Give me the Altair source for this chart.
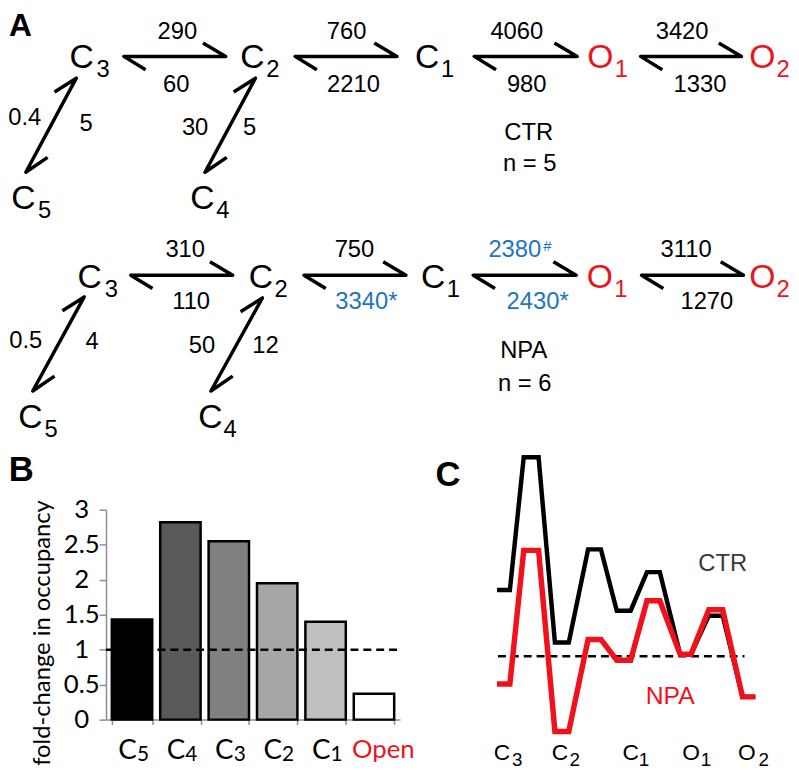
import altair as alt
import pandas as pd

# ======================= DATA =======================
# Panel A - kinetic schemes, rate constants (s^-1)
scheme_groups = ["CTR", "NPA"]
scheme_n = ["n = 5", "n = 6"]
chain_states = ["C3", "C2", "C1", "O1", "O2"]
branch_states = ["C5", "C4"]            # C5 hangs off C3, C4 hangs off C2
ctr_rate_upper = ["290", "760", "4060", "3420"]
ctr_rate_lower = ["60", "2210", "980", "1330"]
ctr_branch_left = ["0.4", "30"]
ctr_branch_right = ["5", "5"]
npa_rate_upper = ["310", "750", "2380", "3110"]
npa_rate_lower = ["110", "3340*", "2430*", "1270"]
npa_branch_left = ["0.5", "50"]
npa_branch_right = ["4", "12"]
npa_upper_note = ["", "", "#", ""]
npa_upper_changed = [False, False, True, False]
npa_lower_changed = [False, True, True, False]

# Panel B - fold-change in occupancy (NPA / CTR)
occ_states = ["C5", "C4", "C3", "C2", "C1", "Open"]
occ_fold_change = [1.43, 2.82, 2.55, 1.95, 1.40, 0.37]

# Panel C - free-energy profile (arbitrary units)
energy_states = ["C3", "C2", "C1", "O1", "O2"]
ctr_well_energy = [3.35, 0.70, 2.30, 0.10, -2.05]
ctr_barrier_energy = [10.05, 5.40, 4.25, 2.05]
npa_well_energy = [-1.40, -3.80, -0.20, 0.10, -2.05]
npa_barrier_energy = [5.35, 0.85, 2.80, 2.35]
reference_energy = 0.0

# ======================= STYLE / LAYOUT =======================
W, H, M = 783, 754, 8
FONT_A = "Liberation Sans, Arial, Helvetica, sans-serif"
FONT_B = "Lato, Noto Sans, sans-serif"
RED = "#e8161d"
LINE_RED = "#f2101a"
BLUE = "#1c76bc"
GRAY_AX = "#8f8f8f"
BAR_FILLS = ["#000000", "#595959", "#808080", "#a6a6a6", "#bfbfbf", "#ffffff"]

STATE_X = [[82.5, 255, 431.5, 606.5, 770], [90.5, 263.5, 437.5, 606, 770]]
SUB_X = [[104, 275.5, 452, 627.5, 791], [112.5, 284, 458, 627, 791]]
STATE_BASE = [65, 287]
SUB_BASE = [74, 296]
BRANCH_X = [[23.5, 204.5], [30.5, 212.5]]
BRANCH_SUB_X = [[45, 225], [51.5, 232.5]]
BRANCH_BASE = [207, 428]
BRANCH_SUB_BASE = [216, 437]
UPPER_X = [[179, 350, 522, 689], [187, 358, 520, 693]]
UPPER_BASE = [35, 256]
LOWER_X = [[178, 357, 532, 707], [193, 370, 543, 714]]
LOWER_BASE = [89, 308]
BL_X = [[25, 197], [26, 204]]
BL_BASE = [[122, 132], [348, 353]]
BR_X = [[87, 252], [93, 268]]
BR_BASE = [[128, 132], [349, 353]]
GROUP_X = [[534, 535], [529, 530]]
GROUP_BASE = [[137, 169], [358, 391]]
HARROW = [[(125, 228), (298, 401), (479, 583), (647, 749)],
          [(132, 235), (307, 410), (478, 582), (648, 751)]]
HARROW_Y = [53, 274]
DARROW = [[((77, 75), (26, 170)), ((258, 75), (207, 170))],
          [((85, 296), (33, 391)), ((265, 297), (213, 391))]]

WELL_X = [508.5, 567.5, 630, 692.5, 756.5]
WELL_HW = [6.5, 7, 7, 5.5, 6.5]
BAR_X = [536.5, 600.5, 660, 723]
BAR_HW = [7.5, 6.5, 6.5, 7]
C_LETTER_X = [506.5, 565, 636.5, 697.5, 754]
C_SUB_X = [522, 580, 650, 712.5, 771]


def PX(f, axis=None):
    return alt.X(f"{f}:Q", scale=alt.Scale(domain=[M, M + W], range=[0, W], nice=False, zero=False), axis=axis)


def PY(f):
    return alt.Y(f"{f}:Q", scale=alt.Scale(domain=[M, M + H], range=[0, H], nice=False, zero=False), axis=None)


# ---------------- panel A text table ----------------
rows = []


def add(text, x, y, size, color="black"):
    rows.append(dict(text=text, x=x, y=y, size=size, color=color))


uppers = [ctr_rate_upper, npa_rate_upper]
lowers = [ctr_rate_lower, npa_rate_lower]
bls = [ctr_branch_left, npa_branch_left]
brs = [ctr_branch_right, npa_branch_right]
up_col = [[False] * 4, npa_upper_changed]
lo_col = [[False] * 4, npa_lower_changed]
notes = [[""] * 4, npa_upper_note]

for g in range(2):
    for i, s in enumerate(chain_states):
        col = RED if s.startswith("O") else "black"
        add(s[0], STATE_X[g][i], STATE_BASE[g], 34, col)
        add(s[1:], SUB_X[g][i], SUB_BASE[g], 24, col)
    for j, s in enumerate(branch_states):
        add(s[0], BRANCH_X[g][j], BRANCH_BASE[g], 34)
        add(s[1:], BRANCH_SUB_X[g][j], BRANCH_SUB_BASE[g], 24)
    for i in range(4):
        add(uppers[g][i], UPPER_X[g][i], UPPER_BASE[g], 24, BLUE if up_col[g][i] else "black")
        add(lowers[g][i], LOWER_X[g][i], LOWER_BASE[g], 24, BLUE if lo_col[g][i] else "black")
        if notes[g][i]:
            add(notes[g][i], UPPER_X[g][i] + 33, UPPER_BASE[g] - 6, 15, BLUE)
    for j in range(2):
        add(bls[g][j], BL_X[g][j], BL_BASE[g][j], 24)
        add(brs[g][j], BR_X[g][j], BR_BASE[g][j], 24)
    add(scheme_groups[g], GROUP_X[g][0], GROUP_BASE[g][0], 24)
    add(scheme_n[g], GROUP_X[g][1], GROUP_BASE[g][1], 24)

# panel C curve labels
add(scheme_groups[0], 730, 573, 24, "#3a3a3a")
add(scheme_groups[1], 677, 707, 25, LINE_RED)
text_df = pd.DataFrame(rows)

bold_df = pd.DataFrame(dict(text=["A", "B", "C"], x=[20.5, 21.5, 452.5], y=[32, 482, 487],
                            size=[32, 35, 35], color=["black"] * 3))

# ---------------- arrows ----------------
arr = []
aid = 0
for g in range(2):
    y = HARROW_Y[g]
    for (x1, x2) in HARROW[g]:
        pts = [(x1 + 22, y + 13.5), (x1, y), (x2, y), (x2 - 23, y - 13.5)]
        for k, (px, py) in enumerate(pts):
            arr.append(dict(id=aid, order=k, x=px, y=py))
        aid += 1
    for (tx, ty), (bx, by) in DARROW[g]:
        pts = [(tx - 22, ty + 14), (tx, ty), (bx, by), (bx + 22, by - 15)]
        for k, (px, py) in enumerate(pts):
            arr.append(dict(id=aid, order=k, x=px, y=py))
        aid += 1
arrow_df = pd.DataFrame(arr)


# ---------------- energy profile vertices ----------------
def profile(wells, barriers):
    out = []
    k = 0
    for i in range(5):
        for sgn in (-1, 1):
            out.append(dict(order=k, x=WELL_X[i] + sgn * WELL_HW[i], E=wells[i]))
            k += 1
        if i < 4:
            for sgn in (-1, 1):
                out.append(dict(order=k, x=BAR_X[i] + sgn * BAR_HW[i], E=barriers[i]))
                k += 1
    return pd.DataFrame(out)


ctr_df = profile(ctr_well_energy, ctr_barrier_energy)
npa_df = profile(npa_well_energy, npa_barrier_energy)
EY = alt.Scale(domain=[-5, 11], range=[751, 431], nice=False, zero=False)

# ======================= LAYERS =======================
arrows = alt.Chart(arrow_df).mark_line(color="black", strokeWidth=3.5, strokeJoin="round").encode(
    x=PX("x"), y=PY("y"), order=alt.Order("order:Q"), detail="id:N")

texts = alt.Chart(text_df).mark_text(font=FONT_A, baseline="alphabetic", align="center").encode(
    x=PX("x"), y=PY("y"), text="text:N",
    size=alt.Size("size:Q", scale=None, legend=None),
    color=alt.Color("color:N", scale=None, legend=None))

bold = alt.Chart(bold_df).mark_text(font=FONT_A, fontWeight="bold", baseline="alphabetic", align="center").encode(
    x=PX("x"), y=PY("y"), text="text:N",
    size=alt.Size("size:Q", scale=None, legend=None),
    color=alt.Color("color:N", scale=None, legend=None))

bar_df = pd.DataFrame(dict(state=occ_states, fold=occ_fold_change))
BY = alt.Scale(domain=[0, 3], range=[715, 503], nice=False, zero=True)


def BX():
    return alt.Scale(type="band", domain=occ_states, range=[99, 396], paddingInner=0.165, paddingOuter=0.12)


state_list = "[" + ",".join(f"'{s}'" for s in occ_states if s != "Open") + "]"
is_open = "datum.value == 'Open'"
is_closed = f"indexof({state_list}, datum.value) >= 0"
bars = alt.Chart(bar_df).mark_bar(stroke="black", strokeWidth=2.5).encode(
    x=alt.X("state:N", sort=occ_states, scale=BX(),
            axis=alt.Axis(orient="bottom", offset=-39, title=None, domainColor=GRAY_AX, domainWidth=1.5,
                          tickColor=GRAY_AX, tickWidth=1.5, tickSize=5, tickBand="extent",
                          labelExpr=f"{is_open} ? 'Open' : ({is_closed} ? substring(datum.value, 0, 1) : '')",
                          labelFont=FONT_B, labelPadding=12, labelAngle=0, labelOverlap=False,
                          labelFontSize=alt.ExprRef(expr=f"{is_open} ? 26 : 28"),
                          labelOffset=alt.ExprRef(expr=f"{is_open} ? 9 : -5"),
                          labelColor=alt.ExprRef(expr=f"{is_open} ? '{RED}' : 'black'"))),
    y=alt.Y("fold:Q", scale=BY,
            axis=alt.Axis(orient="left", offset=-99, values=[0, 0.5, 1, 1.5, 2, 2.5, 3], format="~g",
                          grid=False, domainColor=GRAY_AX, domainWidth=1.5, tickColor=GRAY_AX, tickWidth=1.5,
                          tickSize=7, labelFont=FONT_B, labelFontSize=26, labelAlign="center",
                          labelBaseline="middle", labelPadding=18, labelColor="black",
                          title="fold-change in occupancy", titleFont=FONT_B, titleFontSize=24,
                          titleFontWeight="normal", titleColor="black", titleX=-64, titleY=627,
                          titleAlign="center", titleBaseline="middle", titleAngle=-90)),
    color=alt.Color("state:N", scale=alt.Scale(domain=occ_states, range=BAR_FILLS), legend=None))

# subscripts of the bar-chart category labels (second axis on the same band scale)
bar_subs = alt.Chart(bar_df).mark_bar(opacity=0).encode(
    x=alt.X("state:N", sort=occ_states, scale=BX(),
            axis=alt.Axis(orient="bottom", offset=-39, title=None, domain=False, ticks=False, tickSize=0,
                          labelExpr=f"{is_closed} ? substring(datum.value, 1) : ''",
                          labelFont=FONT_B, labelFontSize=21, labelPadding=24, labelOffset=11,
                          labelAngle=0, labelOverlap=False, labelColor="black", grid=False)),
    y=alt.Y("fold:Q", scale=BY, axis=None))

bar_ref = alt.Chart(pd.DataFrame(dict(v=[1.0]))).mark_rule(
    color="black", strokeWidth=2.5, strokeDash=[8, 5]).encode(
    y=alt.Y("v:Q", scale=BY, axis=None), x=alt.value(99), x2=alt.value(397))

c_ref = alt.Chart(pd.DataFrame(dict(v=[reference_energy]))).mark_rule(
    color="black", strokeWidth=2.5, strokeDash=[8, 5]).encode(
    y=alt.Y("v:Q", scale=EY, axis=None), x=alt.value(495), x2=alt.value(744))


def pick(pos, part):
    names = "[" + ",".join(f"'{s}'" for s in energy_states) + "]"
    idx = "indexof([" + ",".join(str(v) for v in pos) + "], datum.value)"
    sel = f"substring({names}[{idx}], 0, 1)" if part == 0 else f"substring({names}[{idx}], 1)"
    return f"{idx} >= 0 ? {sel} : ''"


c_axis_letters = alt.Axis(orient="bottom", offset=0, values=C_LETTER_X, labelExpr=pick(C_LETTER_X, 0),
                          domain=False, ticks=False, tickSize=0, labelPadding=1, labelBaseline="alphabetic",
                          labelFont=FONT_A, labelFontSize=23, labelColor="black", grid=False, title=None,
                          labelFlush=False, labelOverlap=False)
c_axis_subs = alt.Axis(orient="bottom", offset=0, values=C_SUB_X, labelExpr=pick(C_SUB_X, 1),
                       domain=False, ticks=False, tickSize=0, labelPadding=7, labelBaseline="alphabetic",
                       labelFont=FONT_A, labelFontSize=19, labelColor="black", grid=False, title=None,
                       labelFlush=False, labelOverlap=False)

ctr_line = alt.Chart(ctr_df).mark_line(color="black", strokeWidth=4.5, strokeJoin="miter").encode(
    x=PX("x", c_axis_letters), y=alt.Y("E:Q", scale=EY, axis=None), order=alt.Order("order:Q"))
npa_line = alt.Chart(npa_df).mark_line(color=LINE_RED, strokeWidth=5.5, strokeJoin="miter").encode(
    x=PX("x", c_axis_subs), y=alt.Y("E:Q", scale=EY, axis=None), order=alt.Order("order:Q"))

chart = alt.layer(arrows, texts, bars, bar_subs, bar_ref, c_ref, ctr_line, npa_line, bold).resolve_scale(
    x="independent", y="independent", color="independent", size="independent"
).properties(
    width=W, height=H, autosize=alt.AutoSizeParams(type="none"),
    padding={"left": 0, "top": 0, "right": 8, "bottom": 8}, background="white"
).configure_view(stroke=None)

chart.save("out.html", embed_options={"renderer": "svg", "actions": False})
